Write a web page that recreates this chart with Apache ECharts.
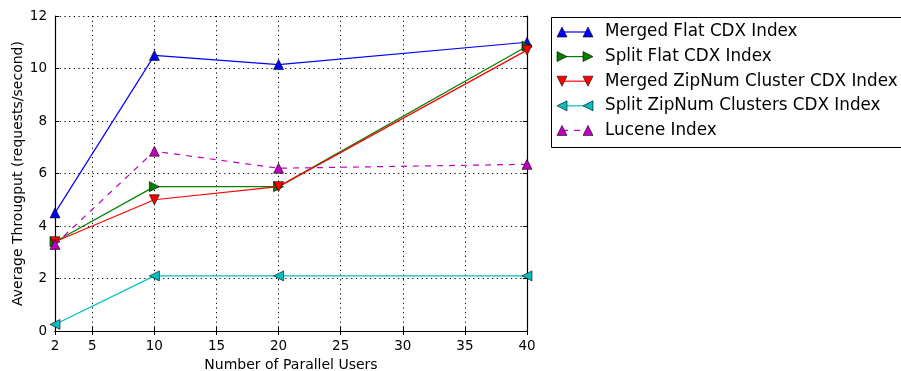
<!DOCTYPE html>
<html><head><meta charset="utf-8">
<script src="https://cdn.jsdelivr.net/npm/echarts@6/dist/echarts.min.js"></script>
<style>html,body{margin:0;padding:0;background:#fff}#c{width:901px;height:371px}</style>
</head><body><div id="c"></div>
<script>
const users = [2, 10, 20, 40];
const mergedFlat = [4.5, 10.5, 10.15, 11.0];
const splitFlat = [3.4, 5.5, 5.5, 10.85];
const mergedZipNum = [3.4, 5.0, 5.5, 10.7];
const splitZipNum = [0.25, 2.1, 2.1, 2.1];
const lucene = [3.3, 6.85, 6.2, 6.35];
const xTicks = [2, 5, 10, 15, 20, 25, 30, 35, 40];
const seriesNames = ['Merged Flat CDX Index', 'Split Flat CDX Index', 'Merged ZipNum Cluster CDX Index', 'Split ZipNum Clusters CDX Index', 'Lucene Index'];
const seriesValues = [mergedFlat, splitFlat, mergedZipNum, splitZipNum, lucene];
const colors = ['#0000ff', '#008000', '#ff0000', '#00bfbf', '#bf00bf'];
const shapes = {
  up: 'path://M0,10 L5,0 L10,10 Z',
  right: 'path://M0,0 L10,5 L0,10 Z',
  down: 'path://M0,0 L10,0 L5,10 Z',
  left: 'path://M10,0 L0,5 L10,10 Z'
};
const markerKinds = ['up', 'right', 'down', 'left', 'up'];
const dashed = [false, false, false, false, true];

const FONT = 'DejaVu Sans';
const chart = echarts.init(document.getElementById('c'), null, {renderer: 'canvas'});

const series = seriesNames.map((n, i) => ({
  name: n, type: 'line', xAxisIndex: 0, yAxisIndex: 0,
  data: users.map((u, j) => [u, seriesValues[i][j]]),
  symbol: shapes[markerKinds[i]], symbolSize: 10,
  lineStyle: {color: colors[i], width: 1.2, type: dashed[i] ? [6, 6] : 'solid'},
  itemStyle: {color: colors[i], borderColor: '#000', borderWidth: 0.6},
  clip: false, z: 3 + i, animation: false
}));

const lg = [];
const lx = 551, ly = 17;
lg.push({type: 'rect', shape: {x: lx + 0.5, y: ly + 0.5, width: 400, height: 130}, style: {fill: '#fff', stroke: '#000', lineWidth: 1}, z: 10});
const pathFor = {
  up: (cx, cy) => [[cx - 5, cy + 5], [cx, cy - 5], [cx + 5, cy + 5]],
  right: (cx, cy) => [[cx - 5, cy - 5], [cx + 5, cy], [cx - 5, cy + 5]],
  down: (cx, cy) => [[cx - 5, cy - 5], [cx + 5, cy - 5], [cx, cy + 5]],
  left: (cx, cy) => [[cx + 5, cy - 5], [cx - 5, cy], [cx + 5, cy + 5]]
};
seriesNames.forEach((n, i) => {
  const cy = 32 + i * 24.6;
  lg.push({type: 'line', shape: {x1: 562, y1: cy, x2: 588, y2: cy}, style: {stroke: colors[i], lineWidth: 1.2, lineDash: dashed[i] ? [6, 6] : null}, z: 11});
  [562, 588].forEach(cx => {
    lg.push({type: 'polygon', shape: {points: pathFor[markerKinds[i]](cx, cy)}, style: {fill: colors[i], stroke: '#000', lineWidth: 0.6}, z: 12});
  });
  lg.push({type: 'text', x: 605, y: cy, style: {text: n, font: '16.8px "DejaVu Sans"', fill: '#000', textVerticalAlign: 'middle', textBaseline: 'middle'}, z: 12});
});

const dots = [1.2, 3.5];
const option = {
  animation: false,
  textStyle: {fontFamily: FONT},
  grid: {left: 55, right: 374, top: 16, bottom: 40, show: false, containLabel: false, outerBoundsMode: 'none'},
  xAxis: [{
    type: 'value', min: 2, max: 40, position: 'bottom',
    name: 'Number of Parallel Users', nameLocation: 'middle', nameGap: 27, nameMoveOverlap: false,
    nameTextStyle: {fontFamily: FONT, fontSize: 14, color: '#000'},
    axisLine: {show: true, lineStyle: {color: '#000', width: 1.2}},
    axisTick: {show: true, inside: true, length: 4, customValues: xTicks, lineStyle: {color: '#000'}},
    axisLabel: {customValues: xTicks, fontFamily: FONT, fontSize: 13.5, color: '#000', margin: 8},
    splitLine: {show: true, lineStyle: {color: '#000', type: dots, width: 1}}
  }, {
    type: 'value', min: 2, max: 40, position: 'top',
    axisLine: {show: true, lineStyle: {color: '#000', width: 1.2}},
    axisTick: {show: true, inside: true, length: 4, customValues: xTicks, lineStyle: {color: '#000'}},
    axisLabel: {show: false}, splitLine: {show: false}
  }],
  yAxis: [{
    type: 'value', min: 0, max: 12, interval: 2, position: 'left',
    name: 'Average Througput (requests/second)', nameLocation: 'middle', nameGap: 30, nameMoveOverlap: false,
    nameTextStyle: {fontFamily: FONT, fontSize: 14, color: '#000'},
    axisLine: {show: true, lineStyle: {color: '#000', width: 1.2}},
    axisTick: {show: true, inside: true, length: 4, lineStyle: {color: '#000'}},
    axisLabel: {fontFamily: FONT, fontSize: 13.5, color: '#000', margin: 8},
    splitLine: {show: true, lineStyle: {color: '#000', type: dots, width: 1}}
  }, {
    type: 'value', min: 0, max: 12, interval: 2, position: 'right',
    axisLine: {show: true, lineStyle: {color: '#000', width: 1.2}},
    axisTick: {show: true, inside: true, length: 4, lineStyle: {color: '#000'}},
    axisLabel: {show: false}, splitLine: {show: false}
  }],
  series: series,
  graphic: lg
};
chart.setOption(option);
</script></body></html>
